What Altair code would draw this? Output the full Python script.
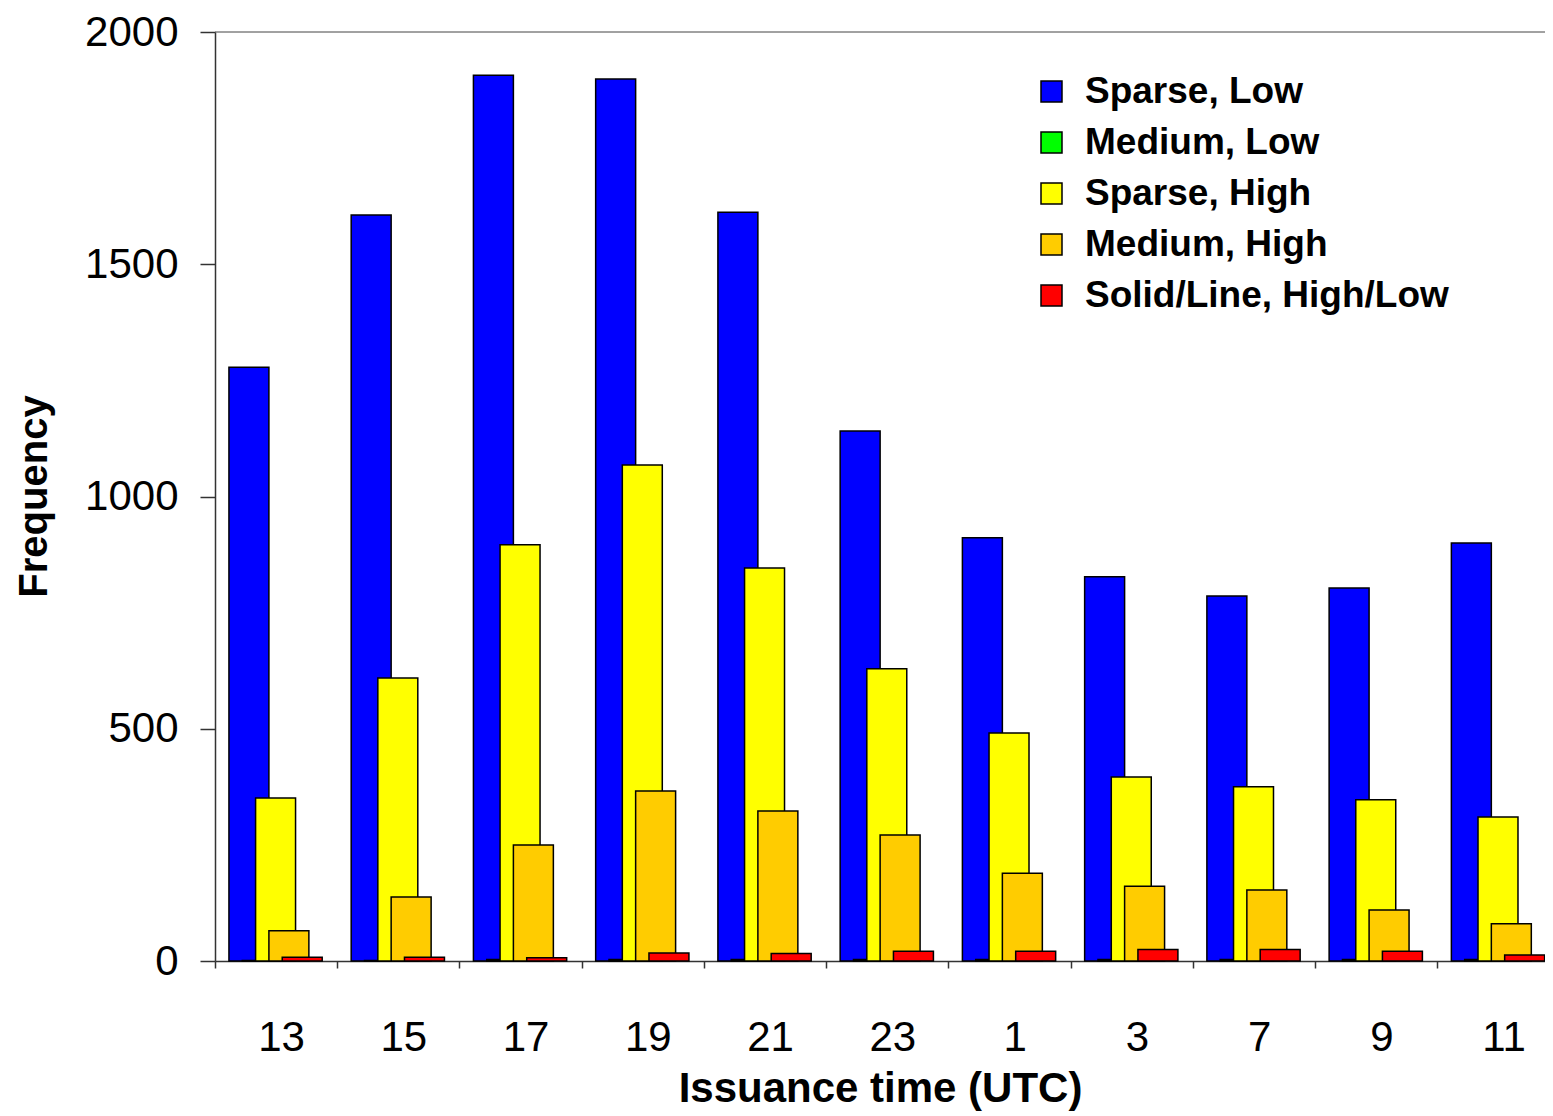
import altair as alt
import pandas as pd

times = ["13", "15", "17", "19", "21", "23", "1", "3", "7", "9", "11"]
series = ["Sparse, Low", "Medium, Low", "Sparse, High", "Medium, High", "Solid/Line, High/Low"]
colors = ["#0000FF", "#00FF00", "#FFFF00", "#FFCC00", "#FF0000"]

sparse_low = [1278, 1606, 1907, 1899, 1612, 1141, 911, 827, 786, 803, 900]
medium_low = [1, 1, 3, 3, 3, 3, 3, 3, 3, 3, 3]
sparse_high = [351, 609, 896, 1068, 846, 629, 491, 396, 375, 347, 310]
medium_high = [65, 138, 250, 366, 323, 271, 189, 161, 153, 110, 80]
solid_line = [8, 8, 7, 17, 16, 21, 21, 25, 25, 21, 13]

values = [sparse_low, medium_low, sparse_high, medium_high, solid_line]

# layout constants (fractions of one group width)
START = 0.114
STEP = 0.109
BARW = 0.327

rows = []
for k, (name, vals) in enumerate(zip(series, values)):
    for i, v in enumerate(vals):
        x0 = i + START + k * STEP
        rows.append({"series": name, "order": k, "time": times[i],
                     "x0": x0, "x1": x0 + BARW, "value": v, "base": 0})
df = pd.DataFrame(rows)

FONT = "Liberation Sans"

tick_vals = [i * 0.5 for i in range(0, 22)]
label_array = "[" + ",".join("'" + t + "'" for t in times) + "]"

xaxis = alt.Axis(
    values=tick_vals,
    title="Issuance time (UTC)",
    labelExpr="datum.value % 1 === 0 ? '' : " + label_array + "[floor(datum.value)]",
    tickOpacity={"condition": {"test": "datum.value % 1 !== 0", "value": 0}, "value": 1},
    tickSize=7,
    tickWidth=1.5,
    tickColor="#333333",
    domainColor="#333333",
    domainWidth=1.5,
    labelFontSize=42,
    labelPadding=49,
    labelOffset=5,
    labelOverlap=False,
    labelFlush=False,
    labelColor="black",
    titleFontSize=42,
    titleFontWeight="bold",
    titleColor="black",
    titleBaseline="alphabetic",
    titleY=140,
    grid=False,
)

yaxis = alt.Axis(
    values=[0, 500, 1000, 1500, 2000],
    format="d",
    title="Frequency",
    tickSize=15,
    tickWidth=1.5,
    tickColor="#333333",
    domainColor="#333333",
    domainWidth=1.5,
    labelFontSize=42,
    labelPadding=22,
    labelFlush=False,
    labelColor="black",
    titleFontSize=40,
    titleFontWeight="bold",
    titleColor="black",
    titleAngle=-90,
    titleBaseline="alphabetic",
    titleAlign="center",
    titleX=-169,
    titleY=464,
    grid=False,
)

xscale = alt.Scale(domain=[0, 10.88], nice=False, zero=False)
yscale = alt.Scale(domain=[0, 2000], nice=False)

bars = alt.Chart(df).mark_bar(stroke="black", strokeWidth=1.5, opacity=1).encode(
    x=alt.X("x0:Q", scale=xscale, axis=xaxis),
    x2="x1:Q",
    y=alt.Y("value:Q", scale=yscale, axis=yaxis),
    y2="base:Q",
    color=alt.Color(
        "series:N",
        scale=alt.Scale(domain=series, range=colors),
        legend=alt.Legend(
            title=None,
            orient="none",
            legendX=818,
            legendY=41,
            symbolType="square",
            symbolSize=441,
            symbolStrokeColor="black",
            symbolStrokeWidth=1.5,
            symbolOpacity=1,
            labelFontSize=37,
            labelFontWeight="bold",
            labelColor="black",
            labelOffset=15,
            rowPadding=13,
            padding=0,
            labelLimit=600,
        ),
    ),
    order=alt.Order("order:Q"),
)

top_rule = alt.Chart(pd.DataFrame({"value": [2000]})).mark_rule(
    color="#444444", strokeWidth=1
).encode(y=alt.Y("value:Q", scale=yscale, axis=yaxis))

chart = alt.layer(top_rule, bars).properties(
    width=1330,
    height=929,
    autosize=alt.AutoSizeParams(type="none"),
    padding={"left": 207, "top": 24, "right": 0, "bottom": 150},
    background="white",
).configure(
    font=FONT,
).configure_view(
    stroke=None,
)

chart.save("out.html", embed_options={"renderer": "svg", "actions": False})
